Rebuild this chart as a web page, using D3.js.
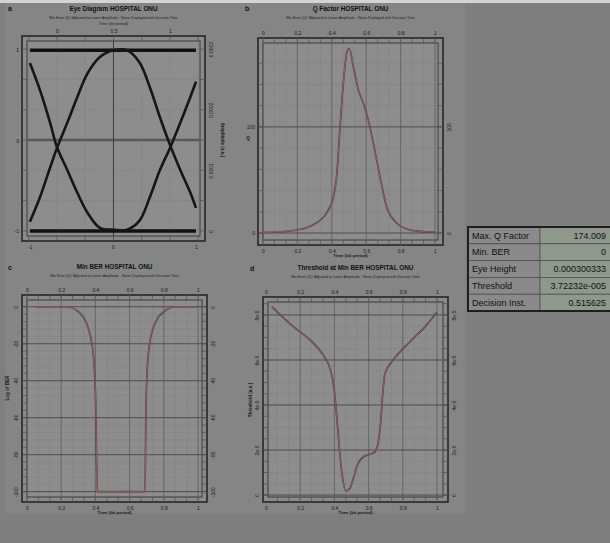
<!DOCTYPE html>
<html>
<head>
<meta charset="utf-8">
<script src="https://cdn.jsdelivr.net/npm/d3@7"></script>
<style>
  html, body { margin: 0; padding: 0; background: #7f7f7f; }
  svg { display: block; font-family: "Liberation Sans", Arial, sans-serif; }
</style>
</head>
<body>
<svg id="chart" width="610" height="543"></svg>
<script>
// ---- data ----
// eye diagram: time in bit periods, amplitude in units of 1e-4
const eyeTime  = [-0.24, -0.15, -0.06, 0.0, 0.09, 0.18, 0.27, 0.38, 0.5, 0.62, 0.73, 0.82, 0.91, 1.0, 1.09, 1.18, 1.23];
const eyeRise  = [0.15, 0.56, 1.05, 1.37, 1.78, 2.21, 2.60, 2.87, 2.98, 2.98, 2.78, 2.38, 1.88, 1.42, 1.01, 0.63, 0.38];
const eyeFall  = [2.77, 2.32, 1.78, 1.38, 1.01, 0.63, 0.30, 0.05, 0.02, 0.02, 0.17, 0.55, 1.00, 1.37, 1.78, 2.21, 2.46];
const eyeLevels = [2.98, 0.0];
const eyeThreshold = 1.5;
const eyeAmpTicks = [0, 1, 2, 3];
const eyeAmpLabels = ["0", "0.0001", "0.0002", "0.0003"];

// Q factor vs time
const qTime  = [0, 0.1, 0.196, 0.29, 0.37, 0.41, 0.428, 0.448, 0.467, 0.487, 0.502, 0.525, 0.554, 0.583, 0.612, 0.641, 0.68, 0.719, 0.777, 0.855, 0.93, 1.0];
const qValue = [0.5, 1.2, 2.8, 7.5, 19, 34, 53, 100, 141, 170, 174, 157, 135, 122.6, 106.6, 85, 53, 24.5, 9.4, 2.8, 1.3, 0.8];

// log of min BER vs time
const berTime = [0.057, 0.15, 0.233, 0.31, 0.358, 0.388, 0.402, 0.411, 0.55, 0.69, 0.696, 0.709, 0.738, 0.797, 0.875, 0.992];
const berLog  = [0, 0, 0, -3.4, -11.5, -26, -53, -100, -100, -100, -53, -26, -11.5, -2.9, 0, 0];

// threshold at min BER vs time, in units of 1e-5
const thrTime  = [0.033, 0.16, 0.257, 0.335, 0.374, 0.398, 0.413, 0.429, 0.443, 0.468, 0.491, 0.511, 0.534, 0.569, 0.608, 0.637, 0.657, 0.671, 0.682, 0.696, 0.744, 0.842, 0.94, 1.0];
const thrValue = [8.37, 7.48, 6.89, 6.22, 5.63, 4.74, 3.56, 2.08, 1.04, 0.18, 0.30, 0.74, 1.33, 1.70, 1.81, 1.92, 2.37, 3.26, 4.44, 5.41, 6.0, 6.81, 7.56, 8.12];

const timeTicks = [0, 0.2, 0.4, 0.6, 0.8, 1];
const tableLabels = ["Max. Q Factor", "Min. BER", "Eye Height", "Threshold", "Decision Inst."];
const tableValues = ["174.009", "0", "0.000300333", "3.72232e-005", "0.515625"];

const subText = "Min Error (0) / Adjusted to Lower Amplitude - Noise Displayed with Decision Time";

const svg = d3.select("#chart");
svg.append("rect").attr("width", 610).attr("height", 543).attr("fill", "#7f7f7f");
svg.append("rect").attr("width", 610).attr("height", 3).attr("fill", "#d4d4d4");
svg.append("rect").attr("x", 5).attr("y", 3).attr("width", 460).attr("height", 510).attr("fill", "#858585");

let clipId = 0;

function panel(o) {
  const g = svg.append("g");
  const [fx0, fy0, fx1, fy1] = o.frame;
  const ix0 = fx0 + 5, iy0 = fy0 + 5, ix1 = fx1 - 5, iy1 = fy1 - 5;

  g.append("rect").attr("x", fx0).attr("y", fy0).attr("width", fx1 - fx0).attr("height", fy1 - fy0)
    .attr("fill", "#8a8a8a").attr("stroke", "#262626").attr("stroke-width", 1.6);
  g.append("rect").attr("x", ix0).attr("y", iy0).attr("width", ix1 - ix0).attr("height", iy1 - iy0)
    .attr("fill", "#8d8d8d").attr("stroke", "#3a3a3a").attr("stroke-width", 1);

  // minor grid + edge ticks
  const inX = v => o.x(v) >= ix0 && o.x(v) <= ix1;
  const inY = v => o.y(v) >= iy0 && o.y(v) <= iy1;
  const xm = o.xMinor.filter(inX), ym = o.yMinor.filter(inY);
  g.selectAll(null).data(xm).join("line")
    .attr("x1", d => o.x(d)).attr("x2", d => o.x(d)).attr("y1", iy0).attr("y2", iy1)
    .attr("stroke", "#7a7a7a").attr("stroke-width", 0.5).attr("stroke-dasharray", "1.5,1");
  g.selectAll(null).data(ym).join("line")
    .attr("y1", d => o.y(d)).attr("y2", d => o.y(d)).attr("x1", ix0).attr("x2", ix1)
    .attr("stroke", "#7a7a7a").attr("stroke-width", 0.5).attr("stroke-dasharray", "1.5,1");
  [[fy0, iy0], [iy1, fy1]].forEach(([a, b]) => {
    g.selectAll(null).data(xm).join("line")
      .attr("x1", d => o.x(d)).attr("x2", d => o.x(d)).attr("y1", a).attr("y2", b)
      .attr("stroke", "#444").attr("stroke-width", 0.6);
  });
  [[fx0, ix0], [ix1, fx1]].forEach(([a, b]) => {
    g.selectAll(null).data(ym).join("line")
      .attr("y1", d => o.y(d)).attr("y2", d => o.y(d)).attr("x1", a).attr("x2", b)
      .attr("stroke", "#444").attr("stroke-width", 0.6);
  });
  // major grid
  g.selectAll(null).data(o.xMajor.filter(inX)).join("line")
    .attr("x1", d => o.x(d)).attr("x2", d => o.x(d)).attr("y1", fy0).attr("y2", fy1)
    .attr("stroke", "#5a5a5a").attr("stroke-width", 0.7);
  g.selectAll(null).data(o.yMajor.filter(inY)).join("line")
    .attr("y1", d => o.y(d)).attr("y2", d => o.y(d)).attr("x1", fx0).attr("x2", fx1)
    .attr("stroke", "#4a4a4a").attr("stroke-width", 0.9);

  // axes (labels only)
  const fmt = o.xFmt || (d => String(d));
  const top = g.append("g").attr("transform", `translate(0,${fy0})`)
    .call(d3.axisTop(o.xTop || o.x).tickValues(o.xTopTicks || o.xMajor).tickSize(0).tickPadding(3).tickFormat(o.xTopFmt || fmt));
  const bot = g.append("g").attr("transform", `translate(0,${fy1})`)
    .call(d3.axisBottom(o.xBot || o.x).tickValues(o.xBotTicks || o.xMajor).tickSize(0).tickPadding(4).tickFormat(o.xBotFmt || fmt));
  const left = g.append("g").attr("transform", `translate(${fx0},0)`)
    .call(d3.axisLeft(o.yLeft || o.y).tickValues(o.yLeftTicks || o.yMajor).tickSize(0).tickPadding(3).tickFormat(o.yLeftFmt || (d => String(d))));
  const right = g.append("g").attr("transform", `translate(${fx1},0)`)
    .call(d3.axisRight(o.yRight || o.y).tickValues(o.yRightTicks || o.yMajor).tickSize(0).tickPadding(5).tickFormat(o.yRightFmt || (d => String(d))));
  [top, bot, left, right].forEach(a => {
    a.select(".domain").remove();
    a.selectAll("text").attr("font-size", 5).attr("fill", "#1a1a1a");
  });
  if (o.rotLeft) left.selectAll("text").attr("transform", "rotate(-90)").attr("text-anchor", "middle").attr("x", 0).attr("dy", 0).attr("y", -4);
  if (o.rotRight) right.selectAll("text").attr("transform", "rotate(-90)").attr("text-anchor", "middle").attr("x", 0).attr("dy", 0).attr("y", 8);

  // titles
  g.append("text").attr("x", o.letter[0]).attr("y", o.letter[1]).text(o.letter[2])
    .attr("font-size", 7).attr("font-weight", "bold").attr("fill", "#111");
  g.append("text").attr("x", (fx0 + fx1) / 2).attr("y", o.titleY).attr("text-anchor", "middle")
    .attr("font-size", 6.4).attr("font-weight", "bold").attr("fill", "#111").text(o.title);
  g.append("text").attr("x", (fx0 + fx1) / 2).attr("y", o.titleY + 8).attr("text-anchor", "middle")
    .attr("font-size", 3.6).attr("fill", "#222").text(subText);
  if (o.topTitle) g.append("text").attr("x", (fx0 + fx1) / 2).attr("y", o.titleY + 14).attr("text-anchor", "middle")
    .attr("font-size", 4).attr("fill", "#222").text("Time (bit period)");
  if (o.botTitle) g.append("text").attr("x", (fx0 + fx1) / 2).attr("y", fy1 + 12).attr("text-anchor", "middle")
    .attr("font-size", 4.4).attr("font-weight", "bold").attr("fill", "#1a1a1a").text("Time (bit period)");
  if (o.yTitle) g.append("text").attr("transform", `translate(${o.yTitle[0]},${o.yTitle[1]}) rotate(${o.yTitle[3]})`)
    .attr("text-anchor", "middle").attr("font-size", 4.6).attr("font-weight", "bold").attr("fill", "#1a1a1a").text(o.yTitle[2]);

  const id = "clip" + (clipId++);
  g.append("clipPath").attr("id", id).append("rect")
    .attr("x", ix0).attr("y", iy0).attr("width", ix1 - ix0).attr("height", iy1 - iy0);
  return { g: g.append("g").attr("clip-path", `url(#${id})`), ix0, ix1 };
}

function redCurve(gr, xs, ys, x, y) {
  const line = d3.line().x((d, i) => x(xs[i])).y(d => y(d)).curve(d3.curveMonotoneX);
  gr.append("path").attr("d", line(ys)).attr("fill", "none").attr("stroke", "#463c3e").attr("stroke-width", 1.7);
  gr.append("path").attr("d", line(ys)).attr("fill", "none").attr("stroke", "#c06a7c").attr("stroke-width", 0.9).attr("opacity", 0.75);
}

// ---- a: eye diagram ----
{
  const x = d3.scaleLinear().domain([-0.25, 1.25]).range([28.75, 198.25]);
  const y = d3.scaleLinear().domain([-0.1, 3.15]).range([237, 40]);
  const yNorm = d3.scaleLinear().domain([-1, 1]).range([y(0), y(eyeLevels[0])]);
  const xBot = d3.scaleLinear().domain([-1, 1]).range([x(eyeTime[0]), x(eyeTime[eyeTime.length - 1])]);
  const p = panel({
    frame: [22, 36, 205, 241], x, y,
    xMajor: [0.5], xMinor: [-0.25, 0, 0.25, 0.5, 0.75, 1, 1.25],
    yMajor: [], yMinor: [0, 0.5, 1, 1.5, 2, 2.5, 3],
    xTopTicks: [0, 0.5, 1], xBot, xBotTicks: [-1, 0, 1],
    yLeft: yNorm, yLeftTicks: [-1, 0, 1],
    yRightTicks: eyeAmpTicks, yRightFmt: (d, i) => eyeAmpLabels[i], rotRight: true,
    letter: [8, 11, "a"], title: "Eye Diagram HOSPITAL ONU", titleY: 11, topTitle: true,
    yTitle: [221, 140, "Amplitude (a.u.)", 90]
  });
  p.g.append("line").attr("x1", p.ix0).attr("x2", p.ix1).attr("y1", y(eyeThreshold)).attr("y2", y(eyeThreshold))
    .attr("stroke", "#5a5a5a").attr("stroke-width", 2.4);
  p.g.append("line").attr("x1", x(0.5)).attr("x2", x(0.5)).attr("y1", 36).attr("y2", 241)
    .attr("stroke", "#3c3c3c").attr("stroke-width", 1);
  eyeLevels.forEach(l => {
    p.g.append("line").attr("x1", x(eyeTime[0])).attr("x2", x(eyeTime[eyeTime.length - 1]))
      .attr("y1", y(l)).attr("y2", y(l)).attr("stroke", "#111").attr("stroke-width", 3.6);
  });
  const line = d3.line().x((d, i) => x(eyeTime[i])).y(d => y(d)).curve(d3.curveCatmullRom);
  [eyeRise, eyeFall].forEach(s => {
    p.g.append("path").attr("d", line(s)).attr("fill", "none").attr("stroke", "#161616").attr("stroke-width", 2.6);
  });
}

// ---- b: Q factor ----
{
  const x = d3.scaleLinear().domain([0, 1]).range([263, 435]);
  const y = d3.scaleLinear().domain([-6.6, 180]).range([240, 42]);
  const p = panel({
    frame: [258, 38, 443, 245], x, y,
    xMajor: timeTicks, xMinor: d3.range(0, 1.01, 0.2 / 3),
    yMajor: [0, 100], yMinor: d3.range(0, 181, 20),
    rotRight: true,
    letter: [245, 11, "b"], title: "Q Factor HOSPITAL ONU", titleY: 11, botTitle: true,
    yTitle: [248, 140, "Q", 0]
  });
  redCurve(p.g, qTime, qValue, x, y);
}

// ---- c: min BER ----
{
  const x = d3.scaleLinear().domain([0, 1]).range([27, 198]);
  const y = d3.scaleLinear().domain([-102.9, 4.2]).range([497, 299]);
  const p = panel({
    frame: [22, 295, 207, 502], x, y,
    xMajor: timeTicks, xMinor: d3.range(0, 1.05, 0.2 / 3),
    yMajor: [0, -20, -40, -60, -80, -100], yMinor: d3.range(-100, 1, 4),
    rotLeft: true, rotRight: true,
    letter: [8, 270, "c"], title: "Min BER HOSPITAL ONU", titleY: 269, botTitle: true,
    yTitle: [9, 388, "Log of BER", -90]
  });
  redCurve(p.g, berTime, berLog, x, y);
}

// ---- d: threshold at min BER ----
{
  const x = d3.scaleLinear().domain([0, 1]).range([266, 437]);
  const y = d3.scaleLinear().domain([-0.13, 8.62]).range([498, 301]);
  const p = panel({
    frame: [263, 297, 448, 502], x, y,
    xMajor: timeTicks, xMinor: d3.range(0, 1.05, 0.2 / 3),
    yMajor: [0, 2, 4, 6, 8], yMinor: d3.range(0, 8.7, 0.5),
    yLeftFmt: d => d === 0 ? "0" : d + "e-5", yRightFmt: d => d === 0 ? "0" : d + "e-5",
    rotLeft: true, rotRight: true,
    letter: [250, 271, "d"], title: "Threshold at Min BER HOSPITAL ONU", titleY: 270, botTitle: true,
    yTitle: [252, 400, "Threshold (a.u.)", -90]
  });
  redCurve(p.g, thrTime, thrValue, x, y);
}

// ---- results table ----
{
  const rows = d3.scaleBand().domain(tableLabels).range([227, 311]);
  const t = svg.append("g");
  t.selectAll(null).data(tableLabels).join("rect")
    .attr("x", 468).attr("y", d => rows(d)).attr("width", 72).attr("height", rows.bandwidth())
    .attr("fill", "#8a8a8a").attr("stroke", "#4a4a4a").attr("stroke-width", 0.7);
  t.selectAll(null).data(tableLabels).join("rect")
    .attr("x", 540).attr("y", d => rows(d)).attr("width", 75).attr("height", rows.bandwidth())
    .attr("fill", "#8e998c").attr("stroke", "#4a4a4a").attr("stroke-width", 0.7);
  t.append("rect").attr("x", 468).attr("y", 227).attr("width", 150).attr("height", 84)
    .attr("fill", "none").attr("stroke", "#1e1e1e").attr("stroke-width", 2);
  t.selectAll(null).data(tableLabels).join("text")
    .attr("x", 472).attr("y", d => rows(d) + rows.bandwidth() / 2 + 3.2)
    .attr("font-size", 9).attr("fill", "#111").text(d => d);
  t.selectAll(null).data(tableValues).join("text")
    .attr("x", 606).attr("y", (d, i) => rows(tableLabels[i]) + rows.bandwidth() / 2 + 3.2)
    .attr("text-anchor", "end").attr("font-size", 9).attr("fill", "#111").text(d => d);
}
</script>
</body>
</html>
